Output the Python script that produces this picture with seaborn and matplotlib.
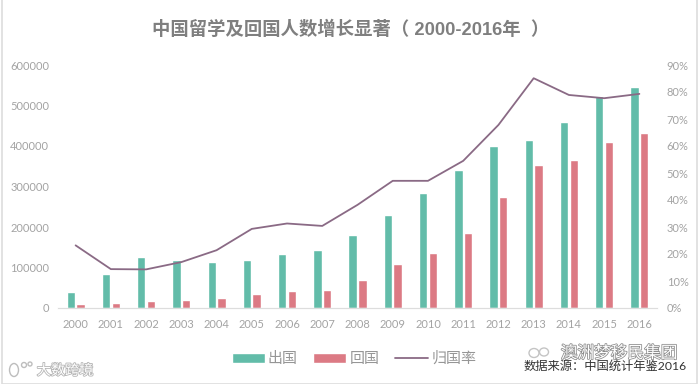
import matplotlib
matplotlib.use("Agg")
import matplotlib.pyplot as plt
import matplotlib.patheffects as pe
from matplotlib.patches import Patch, Rectangle, Ellipse
from matplotlib.lines import Line2D
import pandas as pd
import seaborn as sns

years = [str(y) for y in range(2000, 2017)]
outbound = [38989, 83973, 125179, 117307, 114682, 118515, 134000, 144000, 179800,
            229300, 284700, 339700, 399600, 413900, 459800, 523700, 544500]
returned = [9121, 12243, 17945, 20152, 24726, 34987, 42000, 44000, 69300,
            108300, 134800, 186200, 272900, 353500, 364800, 409100, 432500]
rate = [0.232, 0.144, 0.143, 0.170, 0.214, 0.293, 0.313, 0.304, 0.382,
        0.471, 0.471, 0.545, 0.678, 0.851, 0.789, 0.777, 0.793]
left_ticks = [0, 100000, 200000, 300000, 400000, 500000, 600000]
right_ticks = [i / 10 for i in range(10)]

TEAL, RED, PURPLE, GRAY = "#62BCA9", "#DC7A84", "#8A6A85", "#A3A3A3"
W, H = 700, 384

sns.set_theme(style="white")
plt.rcParams["font.family"] = ["Lato", "Noto Sans CJK SC", "DejaVu Sans"]

fig = plt.figure(figsize=(7, 3.84), dpi=100, facecolor="white")
ax = fig.add_axes([58 / W, 1 - 308 / H, 599 / W, 243 / H])
df = pd.DataFrame({"年份": years * 2,
                   "人数": outbound + returned,
                   "类别": ["出国"] * 17 + ["回国"] * 17})
sns.barplot(data=df, x="年份", y="人数", hue="类别", palette=[TEAL, RED],
            width=0.55, gap=0.14, legend=False, saturation=1, ax=ax)
ax.set_xlim(-0.5, 16.5)
ax.set_ylim(0, 600000)
ax.set_yticks(left_ticks)
ax.set_xlabel("")
ax.set_ylabel("")
ax.tick_params(axis="y", length=0, pad=6.5, labelsize=8, labelcolor=GRAY)
ax.tick_params(axis="x", length=0, pad=8, labelsize=8, labelcolor=GRAY)

ax2 = ax.twinx()
sns.lineplot(x=years, y=rate, color=PURPLE, linewidth=1.3, ax=ax2, legend=False)
ax2.set_ylim(0, 0.9)
ax2.set_yticks(right_ticks)
ax2.set_yticklabels([f"{int(round(t * 100))}%" for t in right_ticks])
ax2.set_ylabel("")
ax2.tick_params(axis="y", length=0, pad=7, labelsize=8, labelcolor=GRAY)

for a in (ax, ax2):
    for s in ("top", "left", "right"):
        a.spines[s].set_visible(False)
    a.spines["bottom"].set_color("#DDDDDD")
    a.spines["bottom"].set_linewidth(0.8)

fig.text(351 / W, 1 - 30 / H, "中国留学及回国人数增长显著（ 2000-2016年  ）", ha="center", va="center",
         fontsize=13.2, fontweight="bold", color="#7F7F7F",
         family=["Liberation Sans", "Noto Sans CJK SC"])

handles = [Patch(facecolor=TEAL, label="出国"), Patch(facecolor=RED, label="回国"),
           Line2D([0], [0], color=PURPLE, linewidth=1.3, label="归国率")]
fig.legend(handles=handles, ncol=3, frameon=False, loc="center",
           bbox_to_anchor=(354 / W, 1 - 359 / H), fontsize=10.8, labelcolor="#969696",
           handlelength=2.2, handleheight=0.6, handletextpad=0.2, columnspacing=1.05)

fig.text(619 / W, 1 - 353 / H, "澳洲梦移民集团", ha="center", va="center", fontsize=12,
         color="white", path_effects=[pe.withStroke(linewidth=1.1, foreground="#8A8A8A")])
fig.text(605.5 / W, 1 - 366 / H, "数据来源：中国统计年鉴2016", ha="center", va="center",
         fontsize=8.85, color="#333333")
fig.text(65 / W, 1 - 370 / H, "大数跨境", ha="center", va="center", fontsize=10.2,
         color="white", path_effects=[pe.withStroke(linewidth=1.2, foreground="#B5B5B5")])


def px_ellipse(cx, cy, w, h, color):
    fig.add_artist(Ellipse((cx / W, 1 - cy / H), w / W, h / H, transform=fig.transFigure,
                           fill=False, edgecolor=color, linewidth=1))


# watermark logos
px_ellipse(14, 370, 9, 13, "#BDBDBD")
px_ellipse(24, 365, 5, 5, "#BDBDBD")
px_ellipse(30, 364, 4, 4, "#BDBDBD")
px_ellipse(534, 353, 10, 9, "#C4C4C4")
px_ellipse(544, 352, 9, 8, "#C4C4C4")

fig.add_artist(Rectangle((2 / W, 0.5 / H), 695 / W, 390 / H, transform=fig.transFigure,
                         fill=False, edgecolor="#DDDDDD", linewidth=1.2))
fig.savefig("out.png", dpi=100)
